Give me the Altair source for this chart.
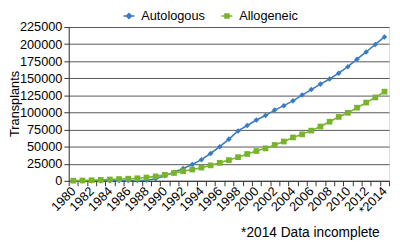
import altair as alt
import pandas as pd

years = list(range(1980, 2015))
autologous = [0, 0, 100, 200, 300, 400, 500, 600, 900, 3000,
              7500, 12500, 18000, 24000, 31000, 40000, 50000, 61000, 73000, 81000,
              89000, 95500, 103500, 110000, 117000, 125500, 133500, 141500, 149000, 157500,
              167000, 178000, 188500, 199500, 210500]
allogeneic = [300, 500, 900, 1400, 2000, 2600, 3100, 3800, 4800, 6500,
              8800, 11500, 14000, 16500, 19300, 22600, 26400, 30300, 34600, 39300,
              43600, 47500, 52500, 57500, 63500, 68000, 73500, 79500, 86500, 93500,
              99500, 107000, 114500, 122000, 130500]
series = ["Autologous", "Allogeneic"]
colors = ["#3a7cc3", "#77b42c"]
legend_shapes = ["M-1.1,0H1.1M0,-0.5L0.5,0L0,0.5L-0.5,0Z",
                 "M-1.1,0H1.1M-0.4,-0.4H0.4V0.4H-0.4Z"]
y_ticks = list(range(0, 225001, 25000))

df = pd.DataFrame({
    "year": years * 2,
    "value": autologous + allogeneic,
    "series": [series[0]] * len(years) + [series[1]] * len(years),
})

FONT = "Liberation Sans"

xenc = alt.X("year:O", bandPosition=0.5,
             scale=alt.Scale(type="band", paddingInner=0, paddingOuter=0),
             axis=alt.Axis(title=None, tickBand="extent", labelAngle=315,
                           labelAlign="right", labelBaseline="middle",
                           labelPadding=3, labelOverlap=False,
                           labelExpr="datum.value % 2 == 0 ? (datum.value == 2014 ? '*2014' : '' + datum.value) : ''",
                           tickSize=5, tickColor="#333", domainColor="#333",
                           labelFontSize=13, labelFont=FONT, labelColor="#000", grid=False))
yenc = alt.Y("value:Q",
             scale=alt.Scale(domain=[0, 225000], nice=False),
             axis=alt.Axis(title="Transplants", values=y_ticks, format="d",
                           tickSize=5, tickColor="#333", domainColor="#333",
                           gridColor="#555", gridWidth=1,
                           labelFontSize=13, labelFont=FONT, labelColor="#000", labelPadding=2,
                           titleFontSize=13, titleFont=FONT, titleFontWeight="normal",
                           titleColor="#000", titleX=-55, titleY=78,
                           titleAlign="center", titleBaseline="middle"))

def make_legend():
    return alt.Legend(title=None, orient="none", direction="horizontal",
                      legendX=55, legendY=-18, symbolSize=100,
                      symbolStrokeWidth=1.6, symbolOpacity=1, labelOffset=6,
                      columnPadding=12, labelFontSize=13, labelFont=FONT,
                      labelColor="#000")

color_scale = alt.Scale(domain=series, range=colors)
cenc = alt.Color("series:N", scale=color_scale, legend=None)
cenc_leg = alt.Color("series:N", scale=color_scale, legend=make_legend())

base = alt.Chart(df)
lines = base.mark_line(strokeWidth=1.6).encode(x=xenc, y=yenc, color=cenc_leg, detail="series:N")
auto_pts = base.transform_filter(alt.datum.series == series[0]).mark_point(
    shape="diamond", filled=True, size=32, opacity=1).encode(x=xenc, y=yenc, color=cenc)
allo_pts = base.transform_filter(alt.datum.series == series[1]).mark_point(
    shape="square", filled=True, size=34, opacity=1).encode(x=xenc, y=yenc, color=cenc)
legend_layer = base.mark_point(filled=False, opacity=0).encode(
    x=xenc, y=yenc,
    color=alt.Color("series:N", scale=color_scale, legend=make_legend()),
    shape=alt.Shape("series:N", scale=alt.Scale(domain=series, range=legend_shapes),
                    legend=make_legend()),
)

chart = alt.layer(lines, auto_pts, allo_pts, legend_layer).properties(
    width=327, height=157,
    autosize=alt.AutoSizeParams(type="none"),
    padding={"left": 62, "top": 17, "right": 3, "bottom": 60},
    title=alt.Title("*2014 Data incomplete", orient="bottom", anchor="end",
                    fontSize=14, font=FONT, fontWeight="normal", color="#000", dx=-10, offset=9),
).configure_view(stroke=None).configure(background="white")

chart.save("out.html", embed_options={"renderer": "svg", "actions": False})
